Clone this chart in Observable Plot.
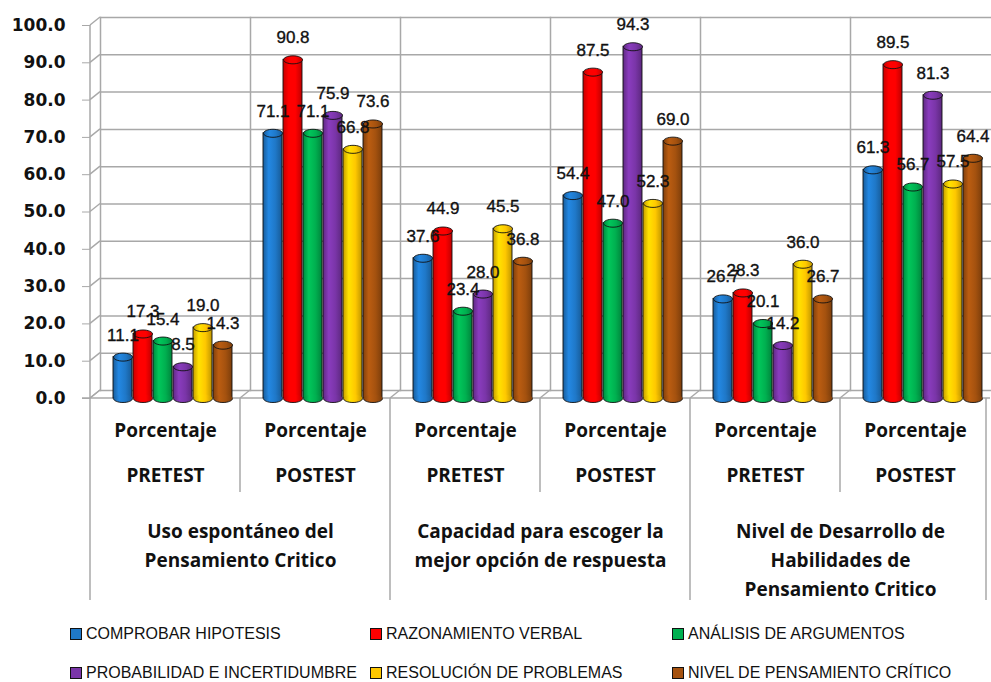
<!DOCTYPE html>
<html><head><meta charset="utf-8">
<script src="https://cdn.jsdelivr.net/npm/d3@7"></script>
<script src="https://cdn.jsdelivr.net/npm/@observablehq/plot@0.6"></script>
<style>
body{margin:0;background:#fff;width:991px;height:682px;overflow:hidden}
#legend{display:grid;grid-template-columns:300px 302px 300px;grid-auto-rows:39px;padding-left:70px;margin-top:4px;font-family:"Liberation Sans",sans-serif;font-size:16px;color:#111}
.item{display:flex;align-items:center;white-space:nowrap}
.sw{width:10px;height:10px;border:1.5px solid #111;margin-right:4px;flex:none}
[aria-label="y-axis tick label"]{font-weight:bold}
</style></head><body>
<div id="chart"></div><div id="legend"></div>
<script>
// ---- data ----
const groups = ["Uso espontáneo del\nPensamiento Critico", "Capacidad para escoger la\nmejor opción de respuesta", "Nivel de Desarrollo de\nHabilidades de\nPensamiento Critico"];
const phases = ["PRETEST", "POSTEST"];
const measure = "Porcentaje";
const series = ["COMPROBAR HIPOTESIS", "RAZONAMIENTO VERBAL", "ANÁLISIS DE ARGUMENTOS", "PROBABILIDAD E INCERTIDUMBRE", "RESOLUCIÓN DE PROBLEMAS", "NIVEL DE PENSAMIENTO CRÍTICO"];
const colors = ["#1f78c8", "#ff0000", "#00b050", "#7a35a8", "#ffc800", "#a5520f"];
const comprobar    = [11.1, 71.1, 37.6, 54.4, 26.7, 61.3];
const razonamiento = [17.3, 90.8, 44.9, 87.5, 28.3, 89.5];
const analisis     = [15.4, 71.1, 23.4, 47.0, 20.1, 56.7];
const probabilidad = [8.5, 75.9, 28.0, 94.3, 14.2, 81.3];
const resolucion   = [19.0, 66.8, 45.5, 52.3, 36.0, 57.5];
const nivel        = [14.3, 73.6, 36.8, 69.0, 26.7, 64.4];
const yTicks = [0, 10, 20, 30, 40, 50, 60, 70, 80, 90, 100];

const seriesValues = [comprobar, razonamiento, analisis, probabilidad, resolucion, nivel];
const columns = groups.flatMap((g, gi) => phases.map(p => ({key: gi + "-" + p, group: g, phase: p})));
const rows = columns.flatMap((c, ci) => series.map((s, j) => ({key: c.key, series: s, value: seriesValues[j][ci]})));
const fmt = d3.format(".1f");
const grid = "#a8a8a8";

// gradients for cylinder shading
const defs = d3.select("body").append("svg").attr("width", 0).attr("height", 0)
  .style("position", "absolute").style("left", 0).style("top", 0).append("defs");
colors.forEach((c, i) => {
  const g = defs.append("linearGradient").attr("id", "cyl" + i).attr("x1", 0).attr("x2", 1).attr("y1", 0).attr("y2", 0);
  [[0, d3.color(c).darker(0.7)], [0.3, d3.color(c).brighter(0.35)], [0.65, d3.color(c)], [1, d3.color(c).darker(0.8)]]
    .forEach(([o, col]) => g.append("stop").attr("offset", o).attr("stop-color", col.formatHex()));
});

const K = 0.5523;
const ellipse = (rx, ry) => ({draw(ctx) {
  ctx.moveTo(rx, 0);
  ctx.bezierCurveTo(rx, ry * K, rx * K, ry, 0, ry);
  ctx.bezierCurveTo(-rx * K, ry, -rx, ry * K, -rx, 0);
  ctx.bezierCurveTo(-rx, -ry * K, -rx * K, -ry, 0, -ry);
  ctx.bezierCurveTo(rx * K, -ry, rx, -ry * K, rx, 0);
  ctx.closePath();
}});
const lowerArc = (rx, ry) => ({draw(ctx) {
  ctx.moveTo(rx, 0);
  ctx.bezierCurveTo(rx, ry * K, rx * K, ry, 0, ry);
  ctx.bezierCurveTo(-rx * K, ry, -rx, ry * K, -rx, 0);
}});

const DX = 7, RY = 4;
const tableFont = {fontFamily: "Open Sans", fontWeight: "bold", fontSize: 19, fill: "#111"};

function make(rx) {
  return Plot.plot({
    width: 991, height: 610,
    marginLeft: 90, marginRight: 1, marginTop: 25, marginBottom: 212,
    style: {fontFamily: "DejaVu Sans", fontSize: "14px", color: "#111", background: "white", overflow: "visible"},
    fx: {domain: columns.map(c => c.key), padding: 0, axis: null, label: null},
    x: {domain: series, paddingInner: 0.06, paddingOuter: 0.712, axis: null, label: null},
    y: {domain: [0, 100], label: null},
    color: {domain: series, range: colors.map((c, i) => `url(#cyl${i})`)},
    marks: [
      Plot.ruleY(yTicks, {dx: 10, dy: -8, stroke: grid, strokeWidth: 1.5}),
      Plot.frame({anchor: "left", dx: 10, dy: -8, stroke: grid, strokeWidth: 1.5}),
      Plot.axisY({ticks: yTicks, tickFormat: fmt, tickSize: 8, tickPadding: 17, fontSize: 17, fontWeight: "bold", stroke: grid, fill: "#111", label: null}),
      Plot.barY(rows, {fx: "key", x: "series", y: "value", fill: "series", stroke: "#111", strokeWidth: 0.9, dx: DX}),
      Plot.dot(rows, {fx: "key", x: "series", y: () => 0, symbol: ellipse(rx, RY), fill: "series", stroke: "none", dx: DX}),
      Plot.dot(rows, {fx: "key", x: "series", y: () => 0, symbol: lowerArc(rx, RY), fill: "none", stroke: "#111", strokeWidth: 0.9, dx: DX}),
      Plot.dot(rows, {fx: "key", x: "series", y: "value", symbol: ellipse(rx, RY), fill: "series", stroke: "#111", strokeWidth: 0.9, dx: DX}),
      Plot.text(rows, {fx: "key", x: "series", y: "value", text: d => fmt(d.value), dy: -22, dx: DX, fontFamily: "Liberation Sans", fontSize: 17, fill: "#111", stroke: "#111", strokeWidth: 0.35}),
      Plot.text(columns, {fx: "key", text: () => measure, frameAnchor: "bottom", textAnchor: "middle", lineAnchor: "middle", dy: 32, ...tableFont}),
      Plot.text(columns, {fx: "key", text: "phase", frameAnchor: "bottom", textAnchor: "middle", lineAnchor: "middle", dy: 77, ...tableFont}),
      Plot.text(columns.filter(c => c.phase === phases[0]), {fx: "key", text: "group", frameAnchor: "bottom-right", textAnchor: "middle", lineAnchor: "top", dy: 119, lineHeight: 1.53, ...tableFont})
    ]
  });
}

let plot = make(9.5);
const bw = plot.scale("x").bandwidth;
plot = make(bw / 2);
document.getElementById("chart").append(plot);

// axis line, floor and category table lines
const fxS = plot.scale("fx"), yS = plot.scale("y");
const y0 = yS.apply(0), yTop = yS.apply(100);
const tableBottom = 600, subBottom = 492;
const starts = columns.map(c => fxS.apply(c.key));
const right = starts[starts.length - 1] + fxS.bandwidth;
const g = d3.select(plot).insert("g", ":first-child").attr("stroke", grid).attr("stroke-width", 1.5).attr("fill", "none");
g.append("line").attr("x1", starts[0]).attr("x2", starts[0]).attr("y1", yTop).attr("y2", tableBottom);
g.append("line").attr("x1", starts[0] - 8).attr("x2", right).attr("y1", y0).attr("y2", y0);
columns.forEach((c, i) => {
  const x = starts[i];
  if (i > 0) g.append("line").attr("x1", x).attr("x2", x).attr("y1", y0).attr("y2", c.phase === phases[0] ? tableBottom : subBottom);
  g.append("line").attr("x1", x).attr("x2", x + 10).attr("y1", y0).attr("y2", y0 - 8);
});
g.append("line").attr("x1", right - 4).attr("x2", right - 4).attr("y1", y0).attr("y2", tableBottom);
yTicks.forEach(v => {
  const yy = yS.apply(v);
  g.append("line").attr("x1", starts[0]).attr("x2", starts[0] + 10).attr("y1", yy).attr("y2", yy - 8);
});

// legend
const lg = d3.select("#legend");
series.forEach((s, i) => {
  const it = lg.append("div").attr("class", "item");
  it.append("div").attr("class", "sw").style("background", colors[i]);
  it.append("span").text(s);
});
</script></body></html>
